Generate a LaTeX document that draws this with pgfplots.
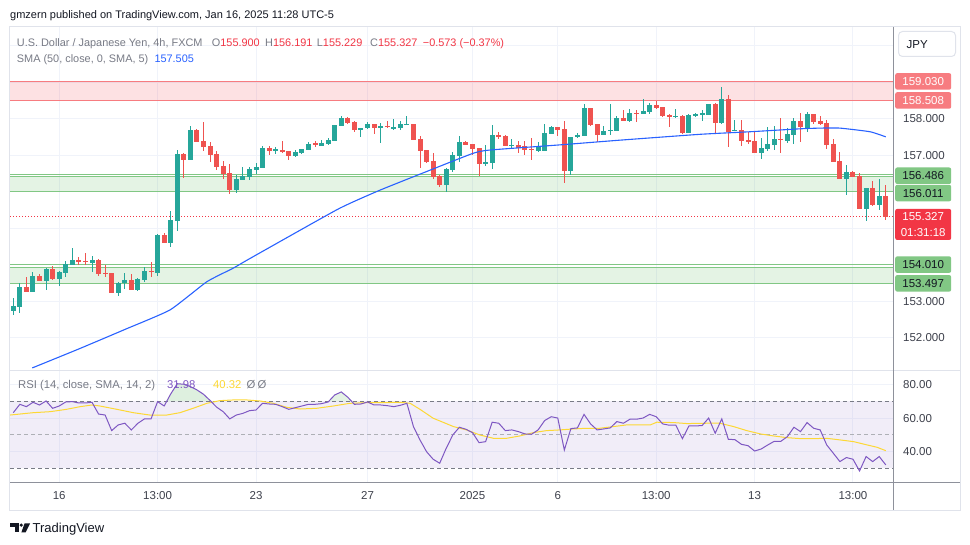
\documentclass[border=0pt]{standalone}
\usepackage{pgfplots}
\pgfplotsset{compat=1.18}
\usepackage{pgfplotstable}
\usepackage{fontspec}
\setmainfont{Liberation Sans}

\definecolor{upc}{HTML}{26A69A}
\definecolor{dnc}{HTML}{EF5350}
\definecolor{smac}{HTML}{2962FF}
\definecolor{rsic}{HTML}{7E57C2}
\definecolor{rsimac}{HTML}{FDD835}
\definecolor{gridc}{HTML}{F0F3FA}
\definecolor{txtc}{HTML}{131722}
\definecolor{grayc}{HTML}{787B86}
\definecolor{tickc}{HTML}{3E414C}
\definecolor{redzl}{HTML}{F77C80}
\definecolor{grnzl}{HTML}{81C784}
\definecolor{grnf}{HTML}{4CAF50}
\definecolor{curc}{HTML}{F23645}
\definecolor{framec}{HTML}{E0E3EB}
\definecolor{sepc}{HTML}{8E919B}
\newcommand{\fs}[1]{\fontsize{#1}{#1}\selectfont}

% bullish candles: index, open, high, low, close
\pgfplotstableread{
i O H L C
0 152.75 153.10 152.63 152.88
1 152.86 153.50 152.68 153.40
3 153.27 153.81 153.27 153.70
5 153.57 153.93 153.32 153.89
7 153.62 153.84 153.43 153.81
8 153.79 154.12 153.66 154.03
9 154.01 154.47 154.01 154.14
12 154.06 154.25 153.82 154.14
16 153.24 153.53 153.15 153.51
17 153.50 153.78 153.35 153.59
19 153.32 153.64 153.30 153.62
20 153.59 153.94 153.53 153.84
22 153.79 154.85 153.71 154.83
24 154.61 155.48 154.48 155.23
25 155.21 157.15 154.94 157.04
27 156.88 157.81 156.88 157.70
34 156.06 156.46 155.98 156.36
35 156.34 156.68 156.34 156.44
36 156.42 156.69 156.33 156.63
37 156.60 156.80 156.48 156.68
38 156.67 157.26 156.67 157.21
40 157.12 157.24 157.04 157.17
43 156.99 157.15 156.97 157.10
44 157.07 157.18 157.04 157.18
45 157.15 157.36 157.15 157.31
47 157.27 157.42 157.27 157.35
48 157.31 157.47 157.29 157.42
49 157.40 157.84 157.40 157.84
50 157.82 158.08 157.82 158.03
53 157.72 157.75 157.52 157.75
54 157.75 157.92 157.72 157.86
56 157.76 157.90 157.35 157.81
58 157.72 158.00 157.69 157.78
59 157.76 157.95 157.70 157.86
60 157.84 158.08 157.83 157.87
66 156.19 156.67 156.01 156.63
67 156.60 157.10 156.55 157.01
68 156.99 157.53 156.81 157.37
72 156.79 157.29 156.71 156.82
73 156.80 157.84 156.64 157.56
76 157.26 157.44 157.20 157.29
80 157.12 157.37 157.10 157.26
81 157.13 157.86 157.13 157.62
82 157.59 157.81 157.59 157.79
85 156.58 157.51 156.47 157.51
86 157.50 157.61 157.48 157.56
87 157.54 158.41 157.54 158.30
90 157.57 157.81 157.57 157.68
91 157.68 158.41 157.57 157.70
92 157.68 158.08 157.68 158.02
94 157.95 158.27 157.92 158.16
96 158.15 158.55 158.15 158.22
97 158.19 158.43 158.15 158.38
101 158.06 158.27 158.03 158.08
103 157.62 158.14 157.62 158.12
104 158.11 158.17 158.06 158.13
105 158.13 158.25 157.95 158.16
106 158.12 158.41 158.12 158.41
108 157.88 158.88 157.87 158.55
110 157.68 157.97 157.68 157.70
114 157.08 157.47 156.91 157.21
115 157.18 157.78 157.12 157.31
116 157.29 157.81 157.15 157.45
118 157.40 157.75 157.33 157.59
119 157.56 158.03 157.31 157.95
121 157.75 158.19 157.64 158.14
127 156.36 156.74 155.92 156.55
130 155.53 156.11 155.21 156.11
132 155.64 156.36 155.51 155.89
}\bull

% bearish candles
\pgfplotstableread{
i O H L C
2 153.39 153.67 153.27 153.27
4 153.70 153.75 153.57 153.57
6 153.89 153.98 153.59 153.62
10 154.14 154.23 154.01 154.08
11 154.11 154.32 154.01 154.09
13 154.14 154.16 153.71 153.76
14 153.78 153.99 153.66 153.76
15 153.78 153.78 153.24 153.24
18 153.59 153.75 153.32 153.32
21 153.84 154.08 153.68 153.82
23 154.82 154.88 154.61 154.61
26 157.04 157.08 156.39 156.88
28 157.70 157.73 157.37 157.37
29 157.40 157.92 157.13 157.24
30 157.26 157.37 156.83 157.01
31 157.05 157.12 156.60 156.69
32 156.71 156.85 156.36 156.50
33 156.52 156.77 155.95 156.06
39 157.21 157.26 157.01 157.12
41 157.15 157.40 157.06 157.10
42 157.12 157.12 156.88 156.99
46 157.33 157.40 157.24 157.31
51 158.03 158.05 157.87 157.90
52 157.92 157.95 157.65 157.70
55 157.86 157.86 157.60 157.76
57 157.81 157.95 157.75 157.79
61 157.86 157.86 157.42 157.42
62 157.45 157.53 156.67 157.12
63 157.15 157.15 156.79 156.81
64 156.85 157.08 156.35 156.40
65 156.44 156.47 156.15 156.19
69 157.37 157.40 157.28 157.29
70 157.31 157.31 157.01 157.18
71 157.21 157.21 156.44 156.77
74 157.56 157.64 157.46 157.52
75 157.53 157.56 157.27 157.27
77 157.29 157.41 157.06 157.21
78 157.26 157.41 157.01 157.15
79 157.18 157.48 156.88 157.15
83 157.78 157.78 157.53 157.70
84 157.73 157.95 156.24 156.58
88 158.30 158.30 157.81 157.84
89 157.86 157.86 157.38 157.57
93 158.02 158.25 157.94 157.95
95 158.17 158.25 157.92 158.15
98 158.38 158.49 158.27 158.31
99 158.33 158.33 158.06 158.09
100 158.12 158.15 157.79 158.05
102 158.08 158.11 157.58 157.62
107 158.41 158.43 157.62 157.88
109 158.55 158.66 157.24 157.65
111 157.70 157.97 157.27 157.40
112 157.42 157.64 157.31 157.38
113 157.40 157.67 157.06 157.08
117 157.46 158.03 157.08 157.44
120 157.95 158.16 157.36 157.77
122 158.14 158.14 157.87 157.93
123 157.95 158.08 157.84 157.86
124 157.88 157.97 157.18 157.29
125 157.31 157.44 156.81 156.83
126 156.85 157.10 156.36 156.36
128 156.55 156.58 156.41 156.42
129 156.43 156.52 155.53 155.53
131 156.11 156.30 155.62 155.64
133 155.900 156.191 155.229 155.327
}\bear

% SMA(50)
\pgfplotstableread{
i s
2.9 151.18
10 151.70
17.1 152.24
23.9 152.77
29.5 153.54
33.5 153.91
36.1 154.18
49.5 155.53
55.9 156.05
63.0 156.56
70.1 157.06
72.7 157.15
83.3 157.29
92.5 157.42
104.7 157.58
112.3 157.65
119.9 157.73
123 157.75
126 157.75
130.6 157.65
133 157.51
}\sma

% RSI(14)
\pgfplotstableread{
i r
0 63.2
1 68.2
2 66.8
3 69.4
4 67.8
5 70.2
6 65.8
7 67.2
8 69.6
9 69.8
10 69.0
11 69.0
12 69.4
13 62.4
14 61.8
15 52.5
16 55.9
17 56.9
18 52.9
19 56.9
20 59.5
21 59.5
22 69.8
23 67.2
24 74.4
25 80.5
26 80.2
27 78.8
28 76.8
29 74.2
30 70.5
31 66.5
32 63.8
33 59.5
34 61.8
35 62.8
36 64.4
37 64.8
38 68.8
39 68.4
40 68.2
41 66.8
42 65.2
43 66.2
44 67.2
45 68.2
46 68.2
47 68.6
48 69.6
49 73.8
50 75.6
51 72.4
52 68.2
53 68.4
54 69.6
55 67.8
56 67.8
57 67.4
58 66.8
59 67.6
60 68.8
61 54.9
62 46.9
63 39.9
64 35.4
65 33.0
66 42.0
67 49.9
68 54.5
69 53.3
70 51.3
71 45.3
72 45.9
73 57.5
74 56.9
75 52.5
76 52.9
77 51.9
78 50.5
79 50.3
80 52.9
81 58.5
82 60.8
83 60.0
84 40.9
85 53.7
86 54.1
87 62.2
88 56.5
89 52.9
90 53.5
91 54.1
92 57.9
93 56.9
94 59.3
95 59.3
96 60.0
97 62.2
98 60.8
99 56.5
100 55.7
101 55.7
102 47.7
103 55.3
104 55.3
105 55.5
106 60.0
107 50.9
108 59.5
109 47.3
110 47.1
111 44.3
112 43.5
113 40.3
114 41.5
115 43.9
116 46.1
117 46.1
118 48.9
119 54.5
120 51.9
121 57.3
122 53.9
123 52.9
124 43.9
125 39.0
126 34.0
127 36.4
128 35.4
129 28.4
130 37.0
131 34.0
132 37.0
133 32.0
}\rsi

% RSI-based SMA(14)
\pgfplotstableread{
i m
-0.5 61.8
3.05 63.2
5.6 63.8
8.1 65.2
10.2 66.8
12 67.8
13.2 67.2
15.8 65.2
18.3 63.2
20.8 61.8
23.4 61.8
25.4 63.2
27.4 65.8
29.5 68.8
31.5 70.4
33.5 70.8
35.6 70.8
37.6 70.2
39.6 68.8
41.7 66.4
43.7 65.4
46.2 65.8
48.8 67.2
51.3 68.8
53.9 69.2
56.4 69.2
58.9 69.4
60.5 68.8
62 65.2
64 59.9
65 58.3
67.1 54.9
69.1 52.9
71.1 49.9
73.2 47.9
75.2 47.9
77.2 49.3
79.3 51.3
81.3 52.5
83.3 52.9
85.4 53.5
87.4 53.9
89.4 53.9
91.5 54.9
93.5 55.9
95.5 55.9
97.1 55.9
98.1 57.5
100.6 57.3
102.7 56.7
105.7 56.9
107.7 56.9
109.8 54.9
111.8 52.5
113.9 50.5
115.9 49.3
117.9 48.3
120 47.7
122 47.7
124 47.9
126.1 46.9
128.1 45.9
130.2 43.9
131.7 42.5
133 40.5
}\rsima

\pgfplotsset{
  candlebar/.style 2 args={only marks, mark=*, mark size=0pt,
    mark options={draw=none, fill=none}, forget plot,
    error bars/.cd, y dir=both, y explicit, error mark=none,
    error bar style={draw=#1, line width=#2}},
  hline/.style={forget plot, line width=1pt},
}
\tikzset{
  tag/.style={anchor=west, xshift=2pt, rounded corners=2pt, minimum width=56pt,
    minimum height=16.5pt, inner sep=0pt, font=\fs{11.5}},
}

\begin{document}
\begin{tikzpicture}
\path[fill=white] (0pt,0pt) rectangle (970pt,-545pt);

% ---------------- main price pane ----------------
\begin{axis}[
  at={(10pt,-27pt)}, anchor=north west, scale only axis,
  width=883pt, height=343pt,
  xmin=-0.5, xmax=134.1, ymin=151.123, ymax=160.52,
  axis line style={draw=none}, major tick length=0pt,
  xtick={7,22,37,54,70,83,98,113,128}, xticklabels={,,,,,,,,},
  ytick={152,153,154,155,156,157,158,159,160},
  yticklabels={152.000,153.000,,,,157.000,158.000,,},
  yticklabel pos=right,
  yticklabel style={anchor=west, inner sep=0pt, xshift=10pt, font=\fs{11.5}, text=tickc},
  grid=major, major grid style={draw=gridc, line width=1pt},
  clip mode=individual,
]
% resistance zone
\addplot[forget plot, draw=none, fill=curc, fill opacity=0.15]
  coordinates {(-0.5,158.508) (134.1,158.508) (134.1,159.03) (-0.5,159.03)};
\addplot[hline, draw=redzl, line width=1.6pt] coordinates {(-0.5,159.03) (134.1,159.03)};
\addplot[hline, draw=redzl] coordinates {(-0.5,158.508) (134.1,158.508)};
% upper support zone
\addplot[forget plot, draw=none, fill=grnf, fill opacity=0.15]
  coordinates {(-0.5,156.011) (134.1,156.011) (134.1,156.43) (-0.5,156.43)};
\addplot[hline, draw=grnzl] coordinates {(-0.5,156.486) (134.1,156.486)};
\addplot[hline, draw=grnzl] coordinates {(-0.5,156.43) (134.1,156.43)};
\addplot[hline, draw=grnzl] coordinates {(-0.5,156.011) (134.1,156.011)};
% lower support zone
\addplot[forget plot, draw=none, fill=grnf, fill opacity=0.15]
  coordinates {(-0.5,153.497) (134.1,153.497) (134.1,153.94) (-0.5,153.94)};
\addplot[hline, draw=grnzl] coordinates {(-0.5,154.010) (134.1,154.010)};
\addplot[hline, draw=grnzl] coordinates {(-0.5,153.94) (134.1,153.94)};
\addplot[hline, draw=grnzl, line width=1.6pt] coordinates {(-0.5,153.497) (134.1,153.497)};
% last price line
\addplot[hline, draw=curc, dash pattern=on 1pt off 2pt] coordinates {(-0.5,155.327) (134.1,155.327)};

% wicks
\addplot[candlebar={upc}{1pt}] table[x=i, y expr={(\thisrow{H}+\thisrow{L})/2}, y error expr={(\thisrow{H}-\thisrow{L})/2}] {\bull};
\addplot[candlebar={dnc}{1pt}] table[x=i, y expr={(\thisrow{H}+\thisrow{L})/2}, y error expr={(\thisrow{H}-\thisrow{L})/2}] {\bear};
% bodies
\addplot[candlebar={upc}{5pt}] table[x=i, y expr={(\thisrow{O}+\thisrow{C})/2}, y error expr={(\thisrow{C}-\thisrow{O})/2}] {\bull};
\addplot[candlebar={dnc}{5pt}] table[x=i, y expr={(\thisrow{O}+\thisrow{C})/2}, y error expr={(\thisrow{O}-\thisrow{C})/2}] {\bear};

% SMA
\addplot[forget plot, smac, line width=1.1pt, smooth, tension=0.3] table[x=i, y=s] {\sma};

% price tags
\node[tag, fill=redzl, text=white] at (axis cs:134.1,159.03) {159.030};
\node[tag, fill=redzl, text=white] at (axis cs:134.1,158.508) {158.508};
\node[tag, fill=grnzl, text=txtc, yshift=-1.5pt] at (axis cs:134.1,156.486) {156.486};
\node[tag, fill=grnzl, text=txtc, yshift=-1.5pt] at (axis cs:134.1,156.011) {156.011};
\node[tag, fill=grnzl, text=txtc] at (axis cs:134.1,154.010) {154.010};
\node[tag, fill=grnzl, text=txtc] at (axis cs:134.1,153.497) {153.497};
\node[anchor=north west, xshift=2pt, yshift=7.8pt, fill=curc, text=white, rounded corners=2pt,
  minimum width=56pt, minimum height=31pt, inner sep=0pt, align=center,
  font=\fontsize{11.5}{15.4}\selectfont] at (axis cs:134.1,155.327) {155.327\\01:31:18};
\end{axis}

% ---------------- RSI pane ----------------
\begin{axis}[
  at={(10pt,-371pt)}, anchor=north west, scale only axis,
  width=883pt, height=111pt,
  xmin=-0.5, xmax=134.1, ymin=21.8, ymax=88.1,
  axis line style={draw=none}, major tick length=0pt,
  xtick={7,22,37,54,70,83,98,113,128},
  xticklabels={16,13:00,23,27,2025,6,13:00,13,13:00},
  xticklabel style={anchor=center, inner sep=0pt, yshift=-13.6pt, font=\fs{11.5}, text=tickc},
  ytick={40,60,80}, yticklabels={40.00,60.00,80.00},
  yticklabel pos=right,
  yticklabel style={anchor=west, inner sep=0pt, xshift=10pt, font=\fs{11.5}, text=tickc},
  grid=major, major grid style={draw=gridc, line width=1pt},
  clip mode=individual,
]
\addplot[forget plot, draw=none, fill=rsic, fill opacity=0.1]
  coordinates {(-0.5,30) (134.1,30) (134.1,70) (-0.5,70)};
% overbought / oversold fills
\addplot[forget plot, draw=none, fill=grnf, fill opacity=0.18]
  coordinates {(23.39,70) (24,74.4) (25,80.5) (26,80.2) (27,78.8) (28,76.8) (29,74.2) (30,70.5) (30.12,70)};
\addplot[forget plot, draw=none, fill=grnf, fill opacity=0.15]
  coordinates {(48.1,70) (49,73.8) (50,75.6) (51,72.4) (51.57,70)};
\addplot[forget plot, draw=none, fill=curc, fill opacity=0.15]
  coordinates {(128.77,30) (129,28.4) (129.19,30)};
\addplot[hline, draw=grayc, dash pattern=on 4pt off 3pt] coordinates {(-0.5,70) (134.1,70)};
\addplot[hline, draw=grayc!60, dash pattern=on 4pt off 3pt] coordinates {(-0.5,50) (134.1,50)};
\addplot[hline, draw=grayc, dash pattern=on 4pt off 3pt] coordinates {(-0.5,30) (134.1,30)};
\addplot[forget plot, rsimac, line width=1pt] table[x=i, y=m] {\rsima};
\addplot[forget plot, rsic, line width=1pt] table[x=i, y=r] {\rsi};
\end{axis}

% ---------------- frame, separators, texts ----------------
\begin{scope}[x=1pt, y=-1pt]
\draw[framec, line width=1pt] (9.5,26.5) rectangle (960.5,510);
\draw[framec, line width=1pt] (10,370.5) -- (960,370.5);
\draw[sepc, line width=1pt] (10,482.5) -- (960,482.5);
\draw[sepc, line width=1pt] (893.5,27) -- (893.5,510);
% currency box
\draw[framec, line width=1pt, rounded corners=4pt] (898.5,31.5) rectangle (955.5,56.5);
\node[anchor=west, inner sep=0pt, font=\fs{11.5}, text=txtc] at (906.5,44.5) {JPY};

% header
\node[anchor=base west, inner sep=0pt, font=\fs{11}, text=txtc] at (10,18.7)
  {gmzern published on TradingView.com, Jan 16, 2025 11:28 UTC-5};
% legend
\node[anchor=base west, inner sep=0pt, font=\fs{10.9}, text=grayc] at (16.7,46.3) {U.S. Dollar / Japanese Yen, 4h, FXCM};
\node[anchor=base west, inner sep=0pt, font=\fs{10.9}, text=grayc] at (211.7,46.3) {O\textcolor{curc}{155.900}};
\node[anchor=base west, inner sep=0pt, font=\fs{10.9}, text=grayc] at (265,46.3) {H\textcolor{curc}{156.191}};
\node[anchor=base west, inner sep=0pt, font=\fs{10.9}, text=grayc] at (316.7,46.3) {L\textcolor{curc}{155.229}};
\node[anchor=base west, inner sep=0pt, font=\fs{10.9}, text=grayc] at (370,46.3) {C\textcolor{curc}{155.327}};
\node[anchor=base west, inner sep=0pt, font=\fs{10.9}, text=curc] at (422.7,46.3) {−0.573 (−0.37\%)};
\node[anchor=base west, inner sep=0pt, font=\fs{10.9}, text=grayc] at (16.7,62.8) {SMA (50, close, 0, SMA, 5)};
\node[anchor=base west, inner sep=0pt, font=\fs{10.9}, text=smac] at (154.3,62.8) {157.505};
% RSI legend
\node[anchor=base west, inner sep=0pt, font=\fs{11.3}, text=grayc] at (18,389) {RSI (14, close, SMA, 14, 2)};
\node[anchor=base west, inner sep=0pt, font=\fs{11.3}, text=rsic] at (167,389) {31.98};
\node[anchor=base west, inner sep=0pt, font=\fs{11.3}, text=rsimac] at (213,389) {40.32};
\node[anchor=base west, inner sep=0pt, font=\fs{11.3}, text=grayc] at (246.5,389) {Ø};
\node[anchor=base west, inner sep=0pt, font=\fs{11.3}, text=grayc] at (257.5,389) {Ø};

% TradingView logo
\fill[txtc] (10,523.3) rectangle (18.6,526.9);
\fill[txtc] (14.9,523.3) rectangle (18.6,532.3);
\fill[txtc] (21.2,525.1) circle (1.8);
\fill[txtc] (24.6,523.3) -- (30.2,523.3) -- (25.6,532.3) -- (21.4,532.3) -- cycle;
\node[anchor=base west, inner sep=0pt, font=\fs{13}, text=txtc] at (32.5,532.3) {TradingView};
\end{scope}
\end{tikzpicture}
\end{document}
